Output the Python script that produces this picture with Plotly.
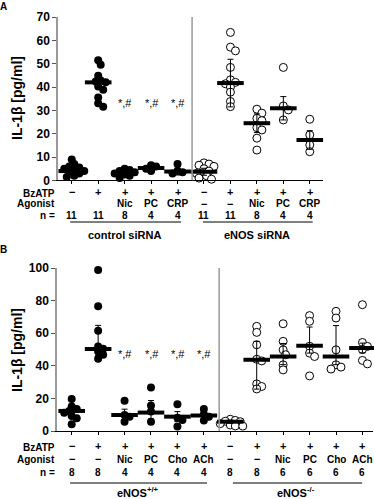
import plotly.graph_objects as go

W, H = 374, 499

# ---------------- Panel A data ----------------
a_groups_bz = ["−", "+", "+", "+", "+", "−", "+", "+", "+", "+"]
a_groups_ag = ["", "", "Nic", "PC", "CRP", "−", "−", "Nic", "PC", "CRP"]
a_n = ["11", "11", "8", "4", "4", "11", "11", "8", "4", "4"]
a_ctrl_neg = [9, 7, 6, 5.5, 5, 4.5, 4, 3.5, 3, 2, 1.5]
a_ctrl_bz = [51.5, 49.5, 44.8, 42.8, 42.4, 42, 40.2, 38.8, 35.5, 33, 31.6]
a_ctrl_nic = [5, 4.5, 4, 3.5, 3, 2.5, 2, 1]
a_ctrl_pc = [6.5, 6, 5, 4]
a_ctrl_crp = [7, 4, 3.5, 3]
a_enos_neg = [7.5, 7, 6.5, 6, 5, 4, 3, 3, 2, 1, 0.5]
a_enos_bz = [63.4, 57.1, 55.5, 48.4, 43.1, 42, 41.4, 40, 37.8, 33.8, 31.6]
a_enos_nic = [30.5, 28.8, 26.6, 25.6, 22.6, 21.6, 18.1, 13]
a_enos_pc = [48.4, 31.9, 30.2, 25.9]
a_enos_crp = [26.2, 19.5, 15.2, 12.3]
a_center = [4, 42, 3, 5.3, 3.8, 3.7, 41.7, 24.5, 30.9, 17.3]
a_err_up = [2, 2.5, 1, 1, 1.5, 1.5, 10.2, 4, 5, 4]
a_err_dn = [2, 2.5, 1, 1, 1.5, 1.5, 10.2, 4, 5, 4]

# ---------------- Panel B data ----------------
b_groups_bz = ["−", "+", "+", "+", "+", "+", "−", "+", "+", "+", "+", "+"]
b_groups_ag = ["−", "−", "Nic", "PC", "Cho", "ACh", "−", "−", "Nic", "PC", "Cho", "ACh"]
b_n = ["8", "8", "4", "4", "4", "4", "8", "8", "6", "6", "6", "6"]
b_wt_neg = [19.7, 15, 13.5, 12.3, 11.2, 9.2, 7.8, 4.1]
b_wt_bz = [98.7, 76.5, 61.5, 51.9, 50.5, 48.8, 46.8, 44.3]
b_wt_nic = [18.5, 9.8, 8.8, 5.7]
b_wt_pc = [26.7, 15.6, 11.9, 5.7]
b_wt_cho = [16.4, 8.2, 6.8, 2.7]
b_wt_ach = [13.5, 10.3, 8.8, 6.4]
b_ko_neg = [7.2, 6.5, 6, 5.7, 4.5, 3.7, 3.1, 3]
b_ko_bz = [64.2, 60.5, 52.9, 44, 43, 28.9, 27.3, 25.8]
b_ko_nic = [65.8, 55, 49.8, 46.8, 40.6, 37.5]
b_ko_pc = [70.8, 67.3, 52, 47.8, 45.7, 33.8]
b_ko_cho = [73.4, 69.3, 49.8, 40.6, 39.2, 38]
b_ko_ach = [77.5, 54.3, 51.9, 50, 43.3, 41.2]
b_center = [12.3, 50.3, 9.8, 11.3, 8.8, 9.5, 5.7, 43.7, 45.7, 52.3, 45.7, 50.9]
b_err_up = [3, 14.5, 3.6, 7.4, 3.1, 2, 1, 11.3, 8, 11.5, 19, 3]
b_err_dn = [3, 4, 3, 4, 3, 2, 1, 18, 5, 4.5, 5, 3]

FONT = "Liberation Sans, Arial, Helvetica, sans-serif"

def py(ypx):
    return 1 - ypx / H

# pixel geometry
A_X0, A_X1 = 58, 323
A_Y0, A_Y1 = 180.4, 17
B_X0, B_X1 = 57, 373
B_Y0, B_Y1 = 431, 268
A_XR = [-0.52, 9.5]
B_XR = [-0.556, 11.4]
A_YR = [0, 70]
B_YR = [0, 100]

a_xscale = (A_X1 - A_X0) / (A_XR[1] - A_XR[0])
b_xscale = (B_X1 - B_X0) / (B_XR[1] - B_XR[0])
a_yscale = (A_Y0 - A_Y1) / (A_YR[1] - A_YR[0])
b_yscale = (B_Y0 - B_Y1) / (B_YR[1] - B_YR[0])


def swarm(values, ysc, xsc, diam=5.0, step=2.5):
    placed = []
    res = [0.0] * len(values)
    order = sorted(range(len(values)), key=lambda i: -values[i])
    cands = [0.0]
    for j in range(1, 12):
        cands += [j * step, -j * step]
    for i in order:
        y = values[i] * ysc
        chosen = cands[-1]
        for c in cands:
            if all(((c - px) ** 2 + (y - pyy) ** 2) ** 0.5 >= diam for px, pyy in placed):
                chosen = c
                break
        placed.append((chosen, y))
        res[i] = chosen / xsc
    return res


fig = go.Figure()

filled = dict(color="black", size=8, line=dict(width=0))
opened = dict(color="white", size=8, line=dict(width=1, color="black"))

a_sets = [a_ctrl_neg, a_ctrl_bz, a_ctrl_nic, a_ctrl_pc, a_ctrl_crp,
          a_enos_neg, a_enos_bz, a_enos_nic, a_enos_pc, a_enos_crp]
b_sets = [b_wt_neg, b_wt_bz, b_wt_nic, b_wt_pc, b_wt_cho, b_wt_ach,
          b_ko_neg, b_ko_bz, b_ko_nic, b_ko_pc, b_ko_cho, b_ko_ach]

for gi, vals in enumerate(a_sets):
    offs = swarm(vals, a_yscale, a_xscale)
    fig.add_trace(go.Scatter(
        x=[gi + o for o in offs], y=vals, mode="markers",
        marker=filled if gi < 5 else opened, cliponaxis=False,
        xaxis="x", yaxis="y", showlegend=False, hoverinfo="y"))

fig.add_trace(go.Scatter(
    x=list(range(len(a_center))), y=a_center, mode="markers",
    marker=dict(symbol="line-ew", size=19, line=dict(width=4, color="black")),
    error_y=dict(type="data", symmetric=False, array=a_err_up, arrayminus=a_err_dn,
                 color="black", thickness=1, width=3),
    cliponaxis=False, xaxis="x", yaxis="y", showlegend=False))

for gi, vals in enumerate(b_sets):
    offs = swarm(vals, b_yscale, b_xscale)
    fig.add_trace(go.Scatter(
        x=[gi + o for o in offs], y=vals, mode="markers",
        marker=filled if gi < 6 else opened, cliponaxis=False,
        xaxis="x2", yaxis="y2", showlegend=False, hoverinfo="y"))

fig.add_trace(go.Scatter(
    x=list(range(len(b_center))), y=b_center, mode="markers",
    marker=dict(symbol="line-ew", size=19, line=dict(width=4, color="black")),
    error_y=dict(type="data", symmetric=False, array=b_err_up, arrayminus=b_err_dn,
                 color="black", thickness=1, width=3),
    cliponaxis=False, xaxis="x2", yaxis="y2", showlegend=False))

xcommon = dict(showline=True, linecolor="black", linewidth=1, ticks="outside",
               ticklen=3, tickcolor="black", showticklabels=False,
               showgrid=False, zeroline=False, fixedrange=True, automargin=False)
ycommon = dict(showline=True, linecolor="#9a9a9a", linewidth=1.5, ticks="outside",
               ticklen=4, tickcolor="#555", showgrid=False, zeroline=False,
               tickfont=dict(family=FONT, size=12, color="black", weight="bold"),
               fixedrange=True, automargin=False)

fig.update_layout(
    width=W, height=H, margin=dict(l=0, r=0, t=0, b=0, pad=0, autoexpand=False),
    paper_bgcolor="white", plot_bgcolor="white", hovermode=False,
    xaxis=dict(domain=[A_X0 / W, A_X1 / W], range=A_XR, anchor="y",
               tickvals=list(range(10)), **xcommon),
    yaxis=dict(domain=[py(A_Y0), py(A_Y1)], range=A_YR, anchor="x",
               tickvals=[0, 10, 20, 30, 40, 50, 60, 70], **ycommon),
    xaxis2=dict(domain=[B_X0 / W, B_X1 / W], range=B_XR, anchor="y2",
                tickvals=list(range(12)), **xcommon),
    yaxis2=dict(domain=[py(B_Y0), py(B_Y1)], range=B_YR, anchor="x2",
                tickvals=[0, 20, 40, 60, 80, 100], **ycommon),
)

shapes = []
# separators
shapes.append(dict(type="line", xref="x", yref="y", x0=4.55, x1=4.55, y0=0, y1=70,
                   line=dict(color="#9a9a9a", width=1.5)))
shapes.append(dict(type="line", xref="x2", yref="y2", x0=5.58, x1=5.58, y0=0, y1=100,
                   line=dict(color="#9a9a9a", width=1.5)))
# group underlines
for (x0, x1) in [(-0.06, 4.13), (4.96, 9.11)]:
    shapes.append(dict(type="line", xref="x", yref="paper", x0=x0, x1=x1,
                       y0=py(222), y1=py(222), line=dict(color="black", width=1)))
for (x0, x1) in [(-0.06, 5.12), (6.1, 10.99)]:
    shapes.append(dict(type="line", xref="x2", yref="paper", x0=x0, x1=x1,
                       y0=py(483), y1=py(483), line=dict(color="black", width=1)))
fig.update_layout(shapes=shapes)

ann = []
def txt(x, y, text, xref="paper", size=10, bold=True, xanchor="center", yanchor="middle", angle=0):
    ann.append(dict(x=x, y=y, xref=xref, yref="paper", text=text, showarrow=False,
                    xanchor=xanchor, yanchor=yanchor, textangle=angle,
                    font=dict(family=FONT, size=size, color="black",
                              weight="bold" if bold else "normal")))

# panel letters
txt(4 / W, py(6), "A", size=10)
txt(4 / W, py(250), "B", size=10)
# y titles
txt(17 / W, py(98), "IL-1β [pg/ml]", size=14, angle=-90)
txt(17 / W, py(350), "IL-1β [pg/ml]", size=14, angle=-90)

# row labels
for (yb, ya, yn) in [(193, 203, 215), (447, 459, 472)]:
    txt(57 / W, py(yb), "BzATP", size=10, xanchor="right")
    txt(57 / W, py(ya), "Agonist", size=10, xanchor="right")
    txt(57 / W, py(yn), "n =", size=10, xanchor="right")

for i in range(10):
    b = a_groups_bz[i]
    txt(i, py(192), b, xref="x", size=11)
    ag = a_groups_ag[i]
    if ag:
        txt(i, py(204), ag, xref="x", size=11 if ag == "−" else 10)
    txt(i, py(215), a_n[i], xref="x", size=10)
for i in range(12):
    b = b_groups_bz[i]
    txt(i, py(446), b, xref="x2", size=11)
    ag = b_groups_ag[i]
    txt(i, py(459), ag, xref="x2", size=11 if ag == "−" else 10)
    txt(i, py(472), b_n[i], xref="x2", size=10)

# group names
ann.append(dict(x=2.0, y=py(235), xref="x", yref="paper", text="control siRNA", showarrow=False,
                font=dict(family=FONT, size=11, color="black", weight="bold")))
ann.append(dict(x=7.0, y=py(235), xref="x", yref="paper", text="eNOS siRNA", showarrow=False,
                font=dict(family=FONT, size=11, color="black", weight="bold")))
ann.append(dict(x=2.5, y=py(491.5), xref="x2", yref="paper", yanchor="middle",
                text="eNOS<sup>+/+</sup>", showarrow=False,
                font=dict(family=FONT, size=11, color="black", weight="bold")))
ann.append(dict(x=8.5, y=py(491.5), xref="x2", yref="paper", yanchor="middle",
                text="eNOS<sup>-/-</sup>", showarrow=False,
                font=dict(family=FONT, size=11, color="black", weight="bold")))

# significance marks
for i in [2, 3, 4]:
    ann.append(dict(x=i + 0.02, y=33, xref="x", yref="y", text="*,#", showarrow=False,
                    font=dict(family=FONT, size=11, color="black")))
for i in [2, 3, 4, 5]:
    ann.append(dict(x=i + 0.02, y=47, xref="x2", yref="y2", text="*,#", showarrow=False,
                    font=dict(family=FONT, size=11, color="black")))

fig.update_layout(annotations=ann)
fig.write_html("out.html", config={"displayModeBar": False},
               post_script="document.body.style.margin='0';document.body.style.overflow='hidden';")
